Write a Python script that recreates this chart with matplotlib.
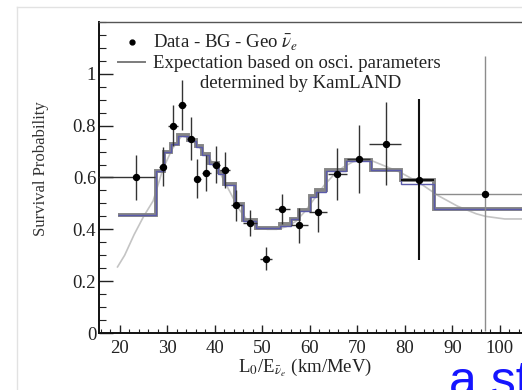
import matplotlib
matplotlib.use("Agg")
import matplotlib.pyplot as plt
from matplotlib.lines import Line2D
from matplotlib.ticker import MultipleLocator, FuncFormatter

plt.rcParams['font.family'] = ['Liberation Serif', 'DejaVu Serif']
plt.rcParams['mathtext.fontset'] = 'stix'

# ---- data points (L0/E, survival probability) ----
data_x = [23.4, 29.0, 31.2, 33.1, 34.9, 36.3, 38.2, 40.2, 42.1, 44.5,
          47.4, 50.7, 54.2, 57.8, 61.7, 65.7, 70.3, 76.0, 82.9, 96.8]
data_y = [0.60, 0.642, 0.80, 0.88, 0.75, 0.595, 0.618, 0.65, 0.63, 0.492,
          0.423, 0.287, 0.48, 0.415, 0.467, 0.612, 0.672, 0.73, 0.592, 0.537]
data_yerr = [0.085, 0.075, 0.08, 0.095, 0.083, 0.075, 0.07, 0.072, 0.07, 0.06,
             0.05, 0.045, 0.058, 0.067, 0.077, 0.10, 0.13, 0.16, 0.31, 0.53]
data_xerr_lo = [8.4, 0.8, 1.0, 0.9, 0.8, 0.7, 0.9, 0.9, 1.0, 1.2,
                1.5, 1.3, 1.5, 1.8, 1.9, 2.0, 2.4, 3.5, 3.7, 10.6]
data_xerr_hi = [4.0, 0.8, 1.0, 0.9, 0.8, 0.7, 0.9, 0.9, 1.0, 1.2,
                1.5, 1.3, 1.5, 1.8, 1.9, 2.0, 2.4, 3.2, 3.3, 14.0]

# ---- expectation histograms ----
hist_edges = [19.5, 27.6, 29.3, 30.8, 32.3, 34.4, 36.0, 37.3, 38.8, 40.6,
              41.9, 44.2, 45.9, 48.7, 53.6, 56.1, 57.8, 60.0, 61.3, 63.4,
              67.6, 72.9, 79.2, 86.2, 112.0]
hist_gray = [0.455, 0.627, 0.70, 0.73, 0.764, 0.745, 0.72, 0.69, 0.655, 0.62,
             0.575, 0.498, 0.435, 0.406, 0.42, 0.44, 0.473, 0.53, 0.55, 0.63,
             0.668, 0.63, 0.59, 0.48]
hist_blue = [0.455, 0.627, 0.70, 0.73, 0.760, 0.742, 0.718, 0.688, 0.652, 0.615,
             0.570, 0.495, 0.432, 0.405, 0.412, 0.44, 0.47, 0.525, 0.545, 0.625,
             0.665, 0.63, 0.575, 0.48]

# ---- smooth expectation curve (light gray) ----
curve_x = [19.5, 21, 23, 25, 27, 29, 31, 33, 35, 37, 39, 41, 43, 45, 47, 49,
           51, 53, 55, 57, 59, 61, 63, 65, 67, 69, 71, 73, 75, 77, 79, 81, 83,
           85, 87, 89, 91, 93, 95, 97, 99, 101, 103, 105, 108, 112]
curve_y = [0.255, 0.30, 0.38, 0.45, 0.51, 0.63, 0.71, 0.76, 0.75, 0.71, 0.67,
           0.62, 0.55, 0.48, 0.43, 0.41, 0.40, 0.40, 0.41, 0.43, 0.47, 0.52,
           0.57, 0.61, 0.64, 0.66, 0.67, 0.665, 0.65, 0.635, 0.62, 0.60, 0.58,
           0.555, 0.53, 0.51, 0.49, 0.475, 0.46, 0.45, 0.445, 0.44, 0.44, 0.44,
           0.44, 0.44]

yticks = [0, 0.2, 0.4, 0.6, 0.8, 1.0]
xticks = [20, 30, 40, 50, 60, 70, 80, 90, 100]

W, H = 522, 390
fig = plt.figure(figsize=(W / 100, H / 100), dpi=100)
fig.patch.set_facecolor('white')

# slide border lines
fig.add_artist(Line2D([17 / W, 1], [1 - 7 / H, 1 - 7 / H], color='#e2e2e2', lw=1))
fig.add_artist(Line2D([17 / W, 17 / W], [0, 1 - 7 / H], color='#e2e2e2', lw=1))

ax = fig.add_axes([99 / W, 57 / H, 448 / W, 311 / H])
ax.set_xlim(15.6, 109.9)
ax.set_ylim(0, 1.2)

ax.plot(curve_x, curve_y, color='#c4c4c4', lw=1.2, zorder=1)
ax.stairs(hist_gray, hist_edges, baseline=None, color='#858585', lw=2.8, zorder=2)
ax.stairs(hist_blue, hist_edges, baseline=None, color='#5a5aaa', lw=1.0, zorder=3)

# error bars: most dark, last point gray
n = len(data_x)
for i in range(n):
    if i == n - 1:
        col, lw = '#8c8c8c', 1.0
    elif i == n - 2:
        col, lw = '#111111', 1.5
    else:
        col, lw = '#333333', 1.0
    ax.errorbar([data_x[i]], [data_y[i]], yerr=[data_yerr[i]],
                xerr=[[data_xerr_lo[i]], [data_xerr_hi[i]]],
                fmt='none', ecolor=col, elinewidth=lw, capsize=0, zorder=4)
ax.plot(data_x, data_y, 'o', color='black', ms=4.3, zorder=5)

# axes styling
for s in ['left', 'bottom']:
    ax.spines[s].set_linewidth(1.4)
    ax.spines[s].set_color('#111111')
ax.spines['top'].set_linewidth(1.0)
ax.spines['top'].set_color('#555555')
ax.spines['right'].set_visible(False)

ax.set_xticks(xticks)
ax.set_yticks(yticks)
ax.xaxis.set_minor_locator(MultipleLocator(2))
ax.yaxis.set_minor_locator(MultipleLocator(0.05))
ax.yaxis.set_major_formatter(FuncFormatter(lambda v, p: f"{v:g}"))
ax.tick_params(axis='both', which='both', direction='in', colors='#222222',
               labelsize=13.5)
ax.tick_params(axis='x', which='major', length=6, width=1.0, pad=5)
ax.tick_params(axis='x', which='minor', length=3, width=0.8)
ax.tick_params(axis='y', which='major', length=10, width=1.0, pad=2)
ax.tick_params(axis='y', which='minor', length=5, width=0.8)

ax.set_ylabel('Survival Probability', fontsize=12, color='#333333')
ax.yaxis.set_label_coords(-0.112, 0.53)
ax.set_xlabel(r'L$_0$/E$_{\bar{\nu}_e}$ (km/MeV)', fontsize=13.5, color='#222222')
ax.xaxis.set_label_coords(0.46, -0.075)

# legend
h1 = Line2D([], [], ls='none', marker='o', color='black', ms=3.5)
h2 = Line2D([], [], color='#7c7c7c', lw=1.4)
leg = ax.legend([h1, h2], [r'Data - BG - Geo $\bar{\nu}_e$',
                           'Expectation based on osci. parameters'],
                loc='upper left', bbox_to_anchor=(118 / W, 1 - 33 / H),
                bbox_transform=fig.transFigure, frameon=False,
                fontsize=13.5, handlelength=1.45, handletextpad=0.43,
                borderpad=0, borderaxespad=0, labelspacing=0.1)
for t in leg.get_texts():
    t.set_color('#222222')
fig.text(200 / W, 1 - 84 / H, 'determined by KamLAND', fontsize=13.5,
         color='#222222', va='center', ha='left')

# slide text cut off at bottom right
fig.text(449 / W, -6 / H, 'a st', fontsize=36, color='#1515ff',
         family=['Liberation Sans', 'DejaVu Sans'], va='baseline', ha='left')

fig.savefig('out.png', dpi=100)
